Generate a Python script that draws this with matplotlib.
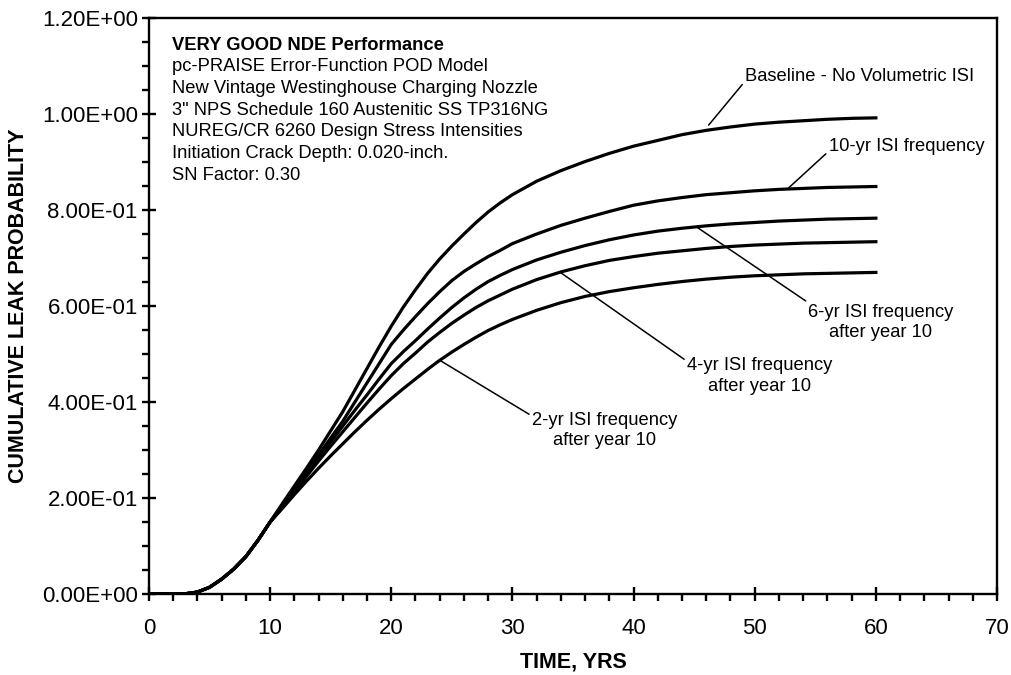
import numpy as np
import matplotlib.pyplot as plt
from matplotlib.ticker import MultipleLocator, FormatStrFormatter

plt.rcParams["font.family"] = ["Liberation Sans", "DejaVu Sans"]

# Cumulative leak probability vs. time (years)
years = [0, 2, 3, 4, 5, 6, 7, 8, 9, 10, 11, 12, 13, 14, 15, 16, 17, 18, 19, 20,
         21, 22, 23, 24, 25, 26, 27, 28, 29, 30, 32, 34, 36, 38, 40, 42, 44, 46,
         48, 50, 52, 54, 56, 58, 60]

# first ten years are common to every case (no ISI credit yet)
early = [0.0, 0.0, 0.0005, 0.004, 0.014, 0.031, 0.052, 0.078, 0.112, 0.15]

baseline = early + [0.188, 0.225, 0.262, 0.30, 0.34, 0.38, 0.425, 0.47, 0.515, 0.558,
                    0.598, 0.634, 0.668, 0.698, 0.725, 0.75, 0.774, 0.796, 0.815, 0.832,
                    0.86, 0.882, 0.901, 0.918, 0.933, 0.945, 0.957, 0.966, 0.973,
                    0.979, 0.983, 0.986, 0.989, 0.991, 0.992]
isi_10yr = early + [0.185, 0.22, 0.255, 0.29, 0.325, 0.36, 0.40, 0.44, 0.48, 0.52,
                    0.55, 0.578, 0.605, 0.63, 0.653, 0.672, 0.688, 0.703, 0.716, 0.73,
                    0.75, 0.768, 0.783, 0.797, 0.81, 0.819, 0.826, 0.832, 0.836,
                    0.84, 0.843, 0.845, 0.847, 0.848, 0.849]
isi_6yr = early + [0.183, 0.217, 0.25, 0.283, 0.317, 0.35, 0.383, 0.415, 0.448, 0.48,
                   0.505, 0.528, 0.552, 0.575, 0.597, 0.617, 0.635, 0.651, 0.664, 0.676,
                   0.696, 0.712, 0.726, 0.738, 0.748, 0.756, 0.762, 0.767, 0.771,
                   0.774, 0.777, 0.779, 0.781, 0.782, 0.783]
isi_4yr = early + [0.18, 0.213, 0.245, 0.277, 0.308, 0.338, 0.368, 0.398, 0.427, 0.455,
                   0.48, 0.502, 0.525, 0.545, 0.564, 0.581, 0.597, 0.611, 0.623, 0.635,
                   0.655, 0.671, 0.684, 0.695, 0.703, 0.71, 0.715, 0.72, 0.724,
                   0.727, 0.729, 0.731, 0.732, 0.733, 0.734]
isi_2yr = early + [0.178, 0.207, 0.235, 0.262, 0.288, 0.313, 0.338, 0.362, 0.385, 0.407,
                   0.428, 0.448, 0.468, 0.487, 0.504, 0.52, 0.535, 0.549, 0.561, 0.572,
                   0.591, 0.607, 0.62, 0.63, 0.638, 0.645, 0.651, 0.656, 0.66,
                   0.663, 0.665, 0.667, 0.668, 0.669, 0.67]

info_lines = [
    "VERY GOOD NDE Performance",
    "pc-PRAISE Error-Function POD Model",
    "New Vintage Westinghouse Charging Nozzle",
    '3" NPS Schedule 160 Austenitic SS TP316NG',
    "NUREG/CR 6260 Design Stress Intensities",
    "Initiation Crack Depth: 0.020-inch.",
    "SN Factor: 0.30",
]

fig = plt.figure(figsize=(10.12, 6.75), dpi=100)
ax = fig.add_axes([0.1472, 0.12, 0.838, 0.8533])

for series in [baseline, isi_10yr, isi_6yr, isi_4yr, isi_2yr]:
    ax.plot(years, series, color="black", lw=2.3, solid_joinstyle="round")

ax.set_xlim(0, 70)
ax.set_ylim(0, 1.2)
ax.xaxis.set_major_locator(MultipleLocator(10))
ax.xaxis.set_minor_locator(MultipleLocator(2))
ax.yaxis.set_major_locator(MultipleLocator(0.2))
ax.yaxis.set_minor_locator(MultipleLocator(0.05))
ax.yaxis.set_major_formatter(FormatStrFormatter("%.2E"))

for side in ["left", "right", "top", "bottom"]:
    ax.spines[side].set_linewidth(1.7)

ax.tick_params(which="major", direction="inout", length=10, width=1.7,
               labelsize=16)
ax.tick_params(axis="y", which="major", pad=3)
ax.tick_params(axis="x", which="major", pad=12)
ax.tick_params(which="minor", direction="out", length=5, width=1.7)
ax.tick_params(top=False, right=False, which="both")

ax.set_xlabel("TIME, YRS", fontsize=15.5, fontweight="bold")
ax.set_ylabel("CUMULATIVE LEAK PROBABILITY", fontsize=15.5, fontweight="bold")
ax.xaxis.set_label_coords(0.5, -0.1)
ax.yaxis.set_label_coords(-0.141, 0.5)

# description block in the upper left
for i, line in enumerate(info_lines):
    ax.text(0.027, 0.953 - i * 0.0377, line, transform=ax.transAxes,
            fontsize=13.2, va="center", ha="left",
            fontweight="bold" if i == 0 else "normal")

# curve labels with leader lines
ax.annotate("Baseline - No Volumetric ISI", xy=(46.2, 0.977), xytext=(49.2, 1.079),
            fontsize=13.2, ha="left", va="center",
            arrowprops=dict(arrowstyle="-", lw=1.1, color="black",
                            shrinkA=0, shrinkB=0, relpos=(0, 0.2)))
ax.annotate("10-yr ISI frequency", xy=(52.8, 0.846), xytext=(56.1, 0.933),
            fontsize=13.2, ha="left", va="center",
            arrowprops=dict(arrowstyle="-", lw=1.1, color="black",
                            shrinkA=0, shrinkB=0, relpos=(0, 0.2)))
ax.annotate("6-yr ISI frequency\nafter year 10", xy=(45.3, 0.763), xytext=(60.4, 0.566),
            fontsize=13.2, ha="center", va="center", linespacing=1.25,
            arrowprops=dict(arrowstyle="-", lw=1.1, color="black",
                            shrinkA=0, shrinkB=0, relpos=(0.05, 0.9)))
ax.annotate("4-yr ISI frequency\nafter year 10", xy=(33.9, 0.671), xytext=(50.4, 0.454),
            fontsize=13.2, ha="center", va="center", linespacing=1.25,
            arrowprops=dict(arrowstyle="-", lw=1.1, color="black",
                            shrinkA=0, shrinkB=0, relpos=(0.0, 0.9)))
ax.annotate("2-yr ISI frequency\nafter year 10", xy=(24.0, 0.487), xytext=(37.6, 0.34),
            fontsize=13.2, ha="center", va="center", linespacing=1.25,
            arrowprops=dict(arrowstyle="-", lw=1.1, color="black",
                            shrinkA=0, shrinkB=0, relpos=(0.0, 0.9)))

fig.savefig("out.png", dpi=100)
